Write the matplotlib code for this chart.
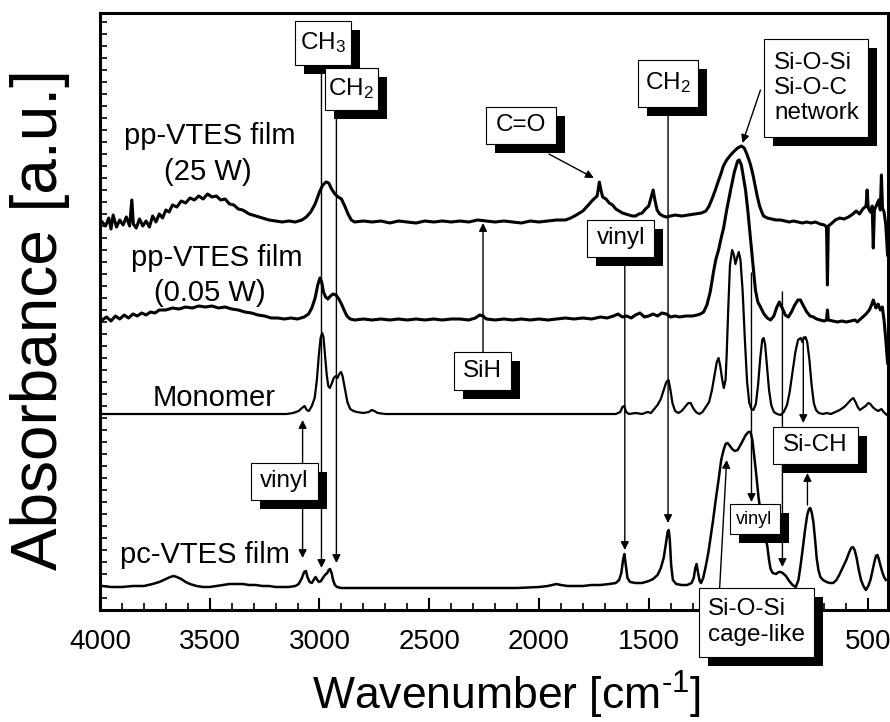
import matplotlib.pyplot as plt
import matplotlib.transforms as mtransforms
from matplotlib.patches import Rectangle
from matplotlib.ticker import MultipleLocator

plt.rcParams['font.family'] = 'Liberation Sans'
plt.rcParams['mathtext.fontset'] = 'custom'
plt.rcParams['mathtext.rm'] = 'Liberation Sans'
plt.rcParams['mathtext.it'] = 'Liberation Sans'
plt.rcParams['mathtext.bf'] = 'Liberation Sans:bold'

# spectra (wavenumber in cm-1, absorbance in a.u., traces already offset)
wn_25w = [3990, 3975, 3960, 3950, 3940, 3925, 3910, 3895, 3880, 3865, 3855, 3848, 3835, 3820, 3805,
          3790, 3775, 3760, 3745, 3730, 3715, 3700, 3685, 3670, 3650, 3630, 3610, 3590, 3570, 3550,
          3530, 3510, 3490, 3470, 3450, 3430, 3410, 3390, 3370, 3350, 3320, 3290, 3260, 3230, 3200,
          3170, 3140, 3110, 3080, 3060, 3040, 3020, 3000, 2985, 2970, 2958, 2945, 2930, 2915, 2900,
          2885, 2870, 2855, 2840, 2800, 2760, 2720, 2680, 2640, 2600, 2560, 2520, 2480, 2440, 2400,
          2360, 2320, 2280, 2240, 2200, 2160, 2120, 2080, 2040, 2000, 1960, 1920, 1880, 1855, 1830,
          1800, 1775, 1755, 1735, 1725, 1718, 1710, 1695, 1680, 1665, 1650, 1635, 1620, 1605, 1590,
          1575, 1560, 1545, 1530, 1515, 1500, 1490, 1480, 1472, 1462, 1450, 1435, 1420, 1400, 1380,
          1350, 1320, 1290, 1260, 1240, 1225, 1210, 1195, 1186, 1170, 1160, 1145, 1127, 1110, 1095,
          1078, 1065, 1055, 1045, 1036, 1025, 1015, 1005, 995, 985, 977, 960, 940, 920, 900,
          880, 860, 840, 820, 800, 780, 760, 740, 720, 700, 690, 686, 682, 670, 650,
          630, 610, 590, 570, 555, 540, 525, 510, 505, 500, 490, 482, 477, 472, 462,
          452, 445, 440, 435, 428, 420, 412]
ab_25w = [388, 384, 392, 381, 395, 383, 390, 385, 393, 384, 410, 386, 382, 391, 384,
          389, 383, 394, 388, 396, 392, 400, 398, 405, 403, 409, 407, 412, 410, 414,
          411, 416, 413, 414, 410, 411, 406, 405, 401, 400, 396, 394, 392, 390, 389,
          388, 389, 388, 390, 393, 398, 406, 418, 425, 428, 427, 421, 416, 413, 411,
          404, 396, 390, 388, 389, 388, 389, 387, 389, 388, 387, 389, 388, 389, 388,
          389, 388, 390, 389, 388, 389, 388, 387, 389, 388, 389, 390, 390, 392, 395,
          399, 405, 410, 414, 428, 420, 413, 411, 407, 405, 401, 399, 397, 396, 395,
          394, 394, 396, 397, 401, 404, 412, 420, 410, 400, 396, 394, 393, 394, 395,
          394, 395, 396, 397, 399, 404, 412, 421, 427, 437, 444, 450, 455, 459, 462,
          464, 462, 457, 451, 445, 435, 424, 413, 404, 398, 394, 392, 391, 390, 390,
          389, 388, 389, 388, 387, 388, 387, 388, 386, 385, 383, 325, 384, 386, 390,
          392, 391, 393, 396, 399, 396, 401, 404, 420, 402, 398, 404, 362, 400, 405,
          410, 400, 435, 402, 398, 385, 355]

wn_005w = [3990, 3970, 3950, 3930, 3910, 3890, 3870, 3850, 3830, 3810, 3790, 3770, 3750, 3730, 3700,
           3670, 3640, 3610, 3580, 3550, 3520, 3490, 3460, 3430, 3400, 3370, 3340, 3310, 3280, 3250,
           3220, 3190, 3160, 3130, 3100, 3070, 3050, 3035, 3020, 3008, 2998, 2990, 2982, 2972, 2962,
           2950, 2938, 2925, 2912, 2900, 2888, 2875, 2860, 2840, 2800, 2760, 2720, 2680, 2640, 2600,
           2560, 2520, 2480, 2440, 2400, 2360, 2320, 2290, 2270, 2255, 2240, 2200, 2160, 2120, 2080,
           2040, 2000, 1960, 1920, 1880, 1840, 1800, 1760, 1720, 1690, 1660, 1640, 1620, 1600, 1580,
           1560, 1540, 1520, 1500, 1480, 1460, 1440, 1420, 1400, 1380, 1360, 1330, 1300, 1280, 1265,
           1250, 1235, 1220, 1205, 1195, 1182, 1170, 1159, 1145, 1127, 1110, 1095, 1088, 1078, 1068,
           1059, 1048, 1036, 1025, 1014, 1003, 991, 975, 960, 945, 930, 918, 905, 892, 878,
           864, 850, 835, 820, 809, 795, 780, 765, 750, 735, 720, 700, 690, 686, 682,
           660, 640, 620, 600, 580, 560, 550, 530, 510, 495, 485, 477, 465, 455, 445,
           436, 428, 420, 412]
ab_005w = [290, 293, 289, 294, 291, 295, 292, 296, 294, 297, 295, 298, 297, 300, 300,
           302, 301, 303, 302, 304, 303, 304, 302, 303, 301, 300, 298, 297, 295, 294,
           292, 292, 291, 292, 291, 293, 296, 302, 312, 325, 332, 328, 318, 313, 311,
           314, 316, 315, 311, 306, 300, 294, 291, 290, 291, 290, 291, 290, 291, 290,
           291, 290, 291, 290, 291, 291, 290, 292, 295, 294, 291, 290, 291, 290, 291,
           290, 291, 290, 291, 292, 291, 292, 291, 293, 292, 294, 296, 293, 294, 292,
           295, 297, 293, 294, 296, 294, 297, 296, 293, 294, 293, 294, 294, 295, 296,
           298, 305, 318, 338, 350, 360, 372, 382, 400, 420, 438, 449, 450, 445, 432,
           420, 398, 370, 345, 320, 308, 303, 296, 292, 290, 294, 302, 308, 302, 295,
           293, 298, 305, 310, 310, 304, 298, 294, 293, 291, 290, 289, 290, 300, 290,
           289, 288, 289, 288, 289, 290, 288, 292, 296, 300, 305, 310, 302, 306, 300,
           303, 290, 270, 247]

wn_mono = [3990, 3900, 3800, 3700, 3600, 3500, 3400, 3300, 3200, 3150, 3120, 3095, 3080, 3068, 3058,
           3048, 3035, 3022, 3012, 3003, 2995, 2988, 2982, 2975, 2967, 2960, 2953, 2945, 2935, 2925,
           2918, 2910, 2902, 2895, 2885, 2873, 2860, 2845, 2830, 2800, 2775, 2762, 2750, 2735, 2700,
           2600, 2500, 2400, 2300, 2200, 2100, 2000, 1900, 1800, 1700, 1650, 1630, 1620, 1612, 1603,
           1590, 1560, 1530, 1505, 1490, 1475, 1460, 1445, 1432, 1420, 1410, 1402, 1392, 1380, 1365,
           1350, 1335, 1320, 1309, 1298, 1285, 1270, 1255, 1240, 1225, 1212, 1200, 1190, 1182, 1175,
           1165, 1158, 1150, 1145, 1138, 1130, 1120, 1112, 1105, 1098, 1090, 1082, 1072, 1062, 1052,
           1042, 1032, 1023, 1012, 1002, 992, 983, 977, 970, 962, 952, 942, 930, 915, 900,
           885, 870, 858, 845, 832, 820, 808, 800, 793, 786, 778, 768, 758, 748, 738,
           725, 705, 690, 670, 650, 630, 610, 592, 580, 568, 558, 548, 538, 525, 512,
           500, 490, 480, 470, 455, 440, 430, 415]
ab_mono = [196, 196, 196, 196, 196, 196, 196, 196, 196, 196, 197, 199, 202, 204, 200,
           199, 204, 212, 230, 255, 272, 277, 273, 255, 235, 224, 222, 226, 232, 234,
           232, 236, 238, 234, 222, 208, 201, 199, 198, 197, 198, 200, 199, 197, 196,
           196, 196, 196, 196, 196, 196, 196, 196, 196, 196, 196, 198, 203, 204, 198,
           196, 197, 196, 198, 197, 201, 205, 211, 220, 228, 230, 221, 207, 199, 197,
           199, 203, 207, 207, 202, 198, 196, 198, 203, 208, 220, 235, 248, 252, 245,
           230, 222, 230, 255, 300, 345, 360, 355, 346, 352, 358, 350, 318, 270, 228,
           207, 201, 200, 206, 225, 252, 270, 272, 266, 245, 220, 205, 198, 196, 195,
           198, 205, 218, 238, 258, 270, 272, 268, 272, 273, 268, 250, 225, 207, 200,
           197, 196, 197, 196, 198, 200, 203, 207, 210, 212, 208, 203, 200, 202, 204,
           207, 206, 203, 201, 199, 201, 198, 195]

wn_pc = [3990, 3950, 3900, 3850, 3800, 3760, 3730, 3700, 3680, 3665, 3650, 3630, 3610, 3590, 3560,
         3530, 3500, 3470, 3440, 3410, 3380, 3350, 3320, 3290, 3260, 3230, 3200, 3170, 3140, 3110,
         3095, 3082, 3070, 3062, 3055, 3045, 3035, 3027, 3018, 3010, 3002, 2993, 2985, 2975, 2965,
         2958, 2952, 2945, 2938, 2930, 2920, 2900, 2850, 2800, 2700, 2600, 2500, 2400, 2300, 2200,
         2100, 2000, 1960, 1940, 1920, 1900, 1870, 1840, 1800, 1760, 1720, 1680, 1650, 1635, 1625,
         1617, 1611, 1605, 1597, 1585, 1560, 1530, 1500, 1480, 1460, 1445, 1432, 1422, 1414, 1409,
         1404, 1398, 1390, 1375, 1350, 1325, 1305, 1295, 1288, 1282, 1276, 1268, 1262, 1252, 1240,
         1228, 1218, 1208, 1195, 1182, 1170, 1159, 1150, 1141, 1130, 1120, 1108, 1095, 1082, 1070,
         1058, 1046, 1036, 1028, 1020, 1010, 1000, 990, 980, 970, 960, 952, 945, 935, 920,
         908, 900, 890, 875, 860, 845, 830, 818, 808, 798, 788, 778, 770, 764, 757,
         750, 742, 735, 727, 718, 706, 690, 675, 660, 645, 630, 615, 600, 588, 578,
         570, 562, 553, 543, 533, 522, 511, 500, 490, 480, 472, 465, 458, 452, 445,
         436, 428, 420]
ab_pc = [24, 23, 23, 24, 24, 26, 28, 31, 33, 34, 33, 31, 28, 26, 24,
         23, 23, 24, 25, 26, 26, 26, 25, 25, 24, 24, 23, 23, 23, 24,
         26, 31, 38, 39, 33, 28, 27, 30, 33, 30, 28, 29, 32, 35, 37,
         40, 41, 37, 30, 25, 23, 22, 22, 22, 22, 22, 22, 22, 22, 22,
         22, 23, 24, 25, 26, 25, 24, 24, 24, 25, 25, 26, 27, 30, 37,
         50, 56, 46, 32, 28, 27, 27, 29, 31, 35, 42, 52, 66, 78, 80,
         70, 45, 30, 26, 25, 25, 27, 32, 42, 46, 38, 29, 27, 32, 44,
         58, 73, 88, 110, 130, 150, 160, 166, 167, 164, 161, 159, 160, 165, 170,
         175, 178, 178, 170, 155, 135, 113, 97, 86, 74, 64, 50, 41, 37, 36,
         38, 38, 37, 34, 29, 25, 23, 30, 45, 62, 80, 95, 101, 102, 97,
         88, 70, 52, 40, 33, 30, 28, 27, 27, 30, 36, 43, 50, 57, 62,
         63, 60, 52, 40, 30, 24, 20, 24, 30, 40, 48, 54, 55, 51, 45,
         38, 33, 30]

xticks = [4000, 3500, 3000, 2500, 2000, 1500, 1000, 500]
# the 1000 label sits under the "cage-like" box in the original
xtick_labels = ['4000', '3500', '3000', '2500', '2000', '1500', '', '500']

fig = plt.figure(figsize=(8.9, 7.22), dpi=100)
ax = fig.add_axes([100 / 890, 112 / 722, 788 / 890, 597 / 722])

ax.plot(wn_25w, ab_25w, color='black', lw=2.2, zorder=3)
ax.plot(wn_005w, ab_005w, color='black', lw=2.2, zorder=3)
ax.plot(wn_mono, ab_mono, color='black', lw=1.6, zorder=3)
ax.plot(wn_pc, ab_pc, color='black', lw=1.8, zorder=3)

ax.set_xlim(3991, 410)
ax.set_ylim(0, 597)


def box(x, y, text, w, h, fs=17.5):
    # white label box with a black drop shadow, size in pixels
    trans = fig.dpi_scale_trans + mtransforms.ScaledTranslation(x, y, ax.transData)
    w, h = w / 100, h / 100
    ax.add_patch(Rectangle((-w / 2 + 0.09, -h / 2 - 0.09), w, h, transform=trans,
                           fc='black', ec='none', zorder=6, clip_on=False))
    ax.add_patch(Rectangle((-w / 2, -h / 2), w, h, transform=trans,
                           fc='white', ec='black', lw=0.8, zorder=7, clip_on=False))
    ax.text(x, y, text, ha='center', va='center', fontsize=fs, zorder=8,
            multialignment='left', clip_on=False)


def arrow(x0, y0, x1, y1):
    ax.annotate('', xy=(x1, y1), xytext=(x0, y0), zorder=5, annotation_clip=False,
                arrowprops=dict(arrowstyle='-|>', color='black', lw=1,
                                mutation_scale=12, shrinkA=0, shrinkB=0))


# band assignments
arrow(2991, 545, 2991, 42)
box(2982, 567, 'CH$_3$', 56, 44)
arrow(2923, 500, 2923, 47)
box(2855, 521, 'CH$_2$', 53, 42)
arrow(1955, 456, 1750, 432)
box(2082, 485, 'C=O', 70, 37)
arrow(1412, 503, 1412, 87)
box(1414, 527, 'CH$_2$', 60, 47)
arrow(991, 520, 1073, 467)
box(736, 522, 'Si-O-Si\nSi-O-C\nnetwork', 104, 98)
arrow(1609, 353, 1609, 60)
box(1627, 372, 'vinyl', 67, 37)
arrow(2255, 258, 2255, 387)
box(2259, 239, 'SiH', 57, 38)
arrow(3077, 147, 3077, 190)
arrow(3077, 110, 3077, 52)
box(3159, 129, 'vinyl', 67, 37)
arrow(1032, 337, 1032, 108)
box(1018, 91, 'vinyl', 50, 30, fs=13)
arrow(891, 318, 891, 43)
arrow(796, 273, 796, 187)
arrow(777, 105, 777, 137)
box(741, 165, 'Si-CH', 85, 37)
arrow(1177, 22, 1145, 150)
box(1009, -12, 'Si-O-Si\ncage-like', 115, 69)

# sample names
ax.text(3500, 466, 'pp-VTES film', ha='center', va='baseline', fontsize=21)
ax.text(3509, 430, '(25 W)', ha='center', va='baseline', fontsize=21)
ax.text(3468, 344, 'pp-VTES film', ha='center', va='baseline', fontsize=21)
ax.text(3500, 309, '(0.05 W)', ha='center', va='baseline', fontsize=21)
ax.text(3482, 204, 'Monomer', ha='center', va='baseline', fontsize=21)
ax.text(3523, 47, 'pc-VTES film', ha='center', va='baseline', fontsize=21)

ax.set_xticks(xticks)
ax.set_xticklabels(xtick_labels)
ax.xaxis.set_minor_locator(MultipleLocator(100))
ax.yaxis.set_major_locator(MultipleLocator(12))
ax.tick_params(axis='x', which='major', direction='in', length=8.5, width=1.5,
               labelsize=20, pad=14)
ax.tick_params(axis='x', which='minor', direction='in', length=5, width=1.2)
ax.tick_params(axis='y', which='major', direction='in', length=5, width=1.2,
               labelleft=False)
for sp in ax.spines.values():
    sp.set_linewidth(2.2)

fig.text(40 / 890, 1 - 320 / 722, 'Absorbance [a.u.]', rotation=90,
         ha='center', va='center', fontsize=46)
fig.text(507 / 890, 12 / 722, r'Wavenumber [cm$^{\text{-}1}$]', ha='center', va='baseline',
         fontsize=32)

fig.savefig('out.png', dpi=100)
